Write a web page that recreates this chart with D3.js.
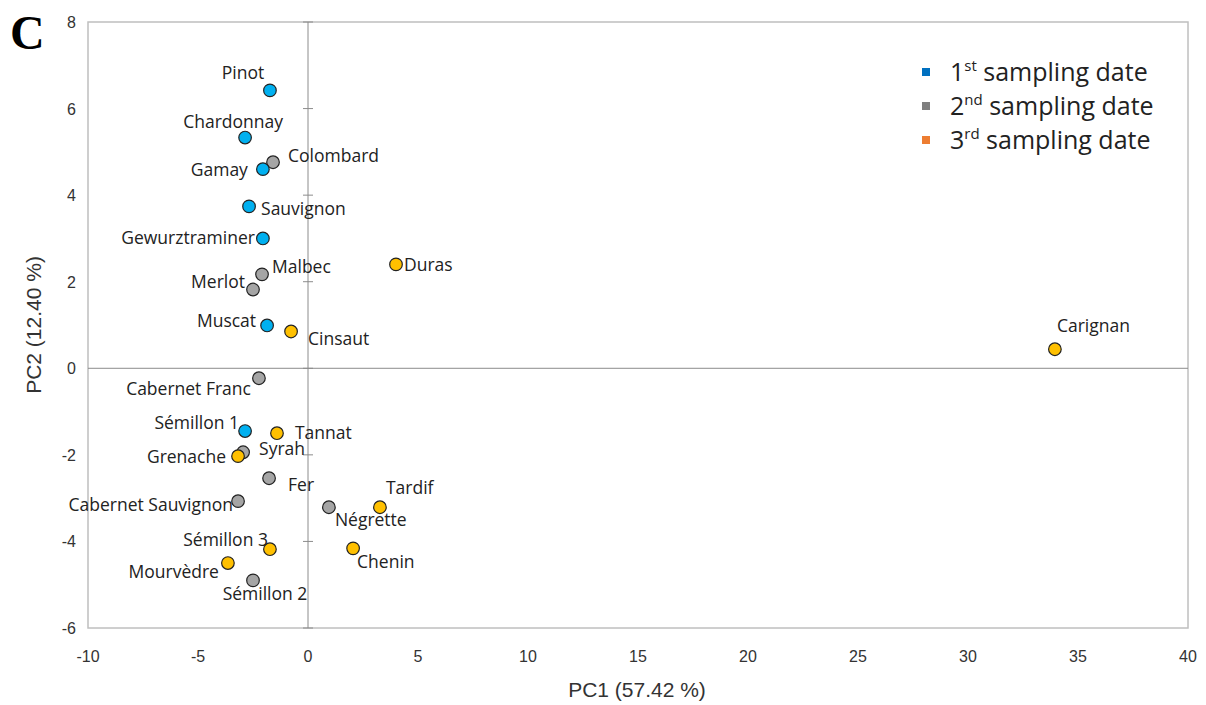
<!DOCTYPE html>
<html>
<head>
<meta charset="utf-8">
<script src="https://cdn.jsdelivr.net/npm/d3@7"></script>
<style>
  body { margin: 0; background: #fff; }
  svg { display: block; }
  .lbl { font-family: "Open Sans", sans-serif; font-size: 17.5px; fill: #222; }
  .tick-lbl { font-family: "Liberation Sans Narrow", "Liberation Sans", sans-serif; font-size: 16px; fill: #333; }
  .ttl { font-family: "Liberation Sans Narrow", "Liberation Sans", sans-serif; font-size: 21px; fill: #333; }
  .leg { font-family: "Open Sans", sans-serif; font-size: 25px; fill: #222; }
</style>
</head>
<body>
<svg id="chart" width="1206" height="705"></svg>
<script>
// cultivar names, sampling date (1,2,3), PC1 and PC2 scores
var names = ["Pinot", "Chardonnay", "Colombard", "Gamay", "Sauvignon", "Gewurztraminer",
  "Malbec", "Merlot", "Duras", "Muscat", "Cinsaut", "Carignan", "Cabernet Franc",
  "Sémillon 1", "Tannat", "Syrah", "Grenache", "Fer", "Cabernet Sauvignon", "Négrette",
  "Tardif", "Chenin", "Sémillon 3", "Mourvèdre", "Sémillon 2"];
var dates = [1, 1, 2, 1, 1, 1, 2, 2, 3, 1, 3, 3, 2, 1, 3, 2, 3, 2, 2, 2, 3, 3, 3, 3, 2];
var pc1 = [-1.73, -2.86, -1.59, -2.05, -2.68, -2.05, -2.09, -2.5, 4.0, -1.86, -0.77, 33.95, -2.23,
  -2.86, -1.41, -2.95, -3.18, -1.77, -3.18, 0.95, 3.27, 2.05, -1.73, -3.64, -2.5];
var pc2 = [6.42, 5.33, 4.76, 4.6, 3.74, 3.0, 2.17, 1.82, 2.4, 0.99, 0.85, 0.44, -0.23,
  -1.45, -1.5, -1.94, -2.03, -2.54, -3.07, -3.21, -3.21, -4.16, -4.18, -4.5, -4.9];
var xTicks = [-10, -5, 0, 5, 10, 15, 20, 25, 30, 35, 40];
var yTicks = [-6, -4, -2, 0, 2, 4, 6, 8];
var legendLabels = [["1", "st"], ["2", "nd"], ["3", "rd"]];

// label placement around each point: [anchor, dx, dy]
var labelPos = {
  "Pinot": ["middle", -27, -18], "Chardonnay": ["middle", -12, -16],
  "Colombard": ["start", 15, -6], "Gamay": ["end", -15, 1],
  "Sauvignon": ["start", 12, 2], "Gewurztraminer": ["end", -8, -1],
  "Malbec": ["start", 10, -7], "Merlot": ["end", -8, -8],
  "Duras": ["start", 8, 0], "Muscat": ["end", -11, -5],
  "Cinsaut": ["start", 17, 7], "Carignan": ["start", 2, -23],
  "Cabernet Franc": ["end", -8, 11], "Sémillon 1": ["end", -6, -8],
  "Tannat": ["start", 18, 0], "Syrah": ["start", 16, -3],
  "Grenache": ["end", -12, 1], "Fer": ["start", 19, 7],
  "Cabernet Sauvignon": ["end", -5, 4], "Négrette": ["start", 6, 13],
  "Tardif": ["start", 6, -19], "Chenin": ["start", 4, 14],
  "Sémillon 3": ["end", -2, -9], "Mourvèdre": ["end", -9, 9],
  "Sémillon 2": ["middle", 12, 13]
};

var pointFill = { 1: "#00B0F0", 2: "#A5A5A5", 3: "#FFC000" };
var legendFill = ["#0070C0", "#7F7F7F", "#ED7D31"];

var svg = d3.select("#chart");
var x = d3.scaleLinear().domain([-10, 40]).range([88, 1188]);
var y = d3.scaleLinear().domain([-6, 8]).range([628, 22]);

// plot frame
svg.append("rect")
  .attr("x", x(-10)).attr("y", y(8))
  .attr("width", x(40) - x(-10)).attr("height", y(-6) - y(8))
  .attr("fill", "none").attr("stroke", "#BFBFBF").attr("stroke-width", 1.5);

// zero lines
svg.append("line")
  .attr("x1", x(-10)).attr("x2", x(40)).attr("y1", y(0)).attr("y2", y(0))
  .attr("stroke", "#8C8C8C").attr("stroke-width", 1);
svg.append("line")
  .attr("x1", x(0)).attr("x2", x(0)).attr("y1", y(8)).attr("y2", y(-6))
  .attr("stroke", "#8C8C8C").attr("stroke-width", 1);

// tick marks across the vertical zero line
svg.selectAll(".ytick").data(yTicks).enter().append("line")
  .attr("x1", x(0) - 5).attr("x2", x(0) + 5)
  .attr("y1", function (d) { return y(d); }).attr("y2", function (d) { return y(d); })
  .attr("stroke", "#8C8C8C");

// tick labels
svg.selectAll(".ylab").data(yTicks).enter().append("text")
  .attr("class", "tick-lbl")
  .attr("x", 76).attr("y", function (d) { return y(d) + 6; })
  .attr("text-anchor", "end")
  .text(function (d) { return d; });
svg.selectAll(".xlab").data(xTicks).enter().append("text")
  .attr("class", "tick-lbl")
  .attr("x", function (d) { return x(d); }).attr("y", 662)
  .attr("text-anchor", "middle")
  .text(function (d) { return d; });

// axis titles
svg.append("text").attr("class", "ttl")
  .attr("x", 637).attr("y", 697).attr("text-anchor", "middle")
  .text("PC1 (57.42 %)");
svg.append("text").attr("class", "ttl")
  .attr("transform", "translate(41,325) rotate(-90)").attr("text-anchor", "middle")
  .text("PC2 (12.40 %)");

// panel letter
svg.append("text")
  .attr("x", 10).attr("y", 49)
  .style("font-family", "'Liberation Serif', serif").style("font-weight", "bold")
  .style("font-size", "48px").attr("fill", "#000")
  .text("C");

// points
var idx = d3.range(names.length);
svg.selectAll(".pt").data(idx).enter().append("circle")
  .attr("cx", function (i) { return x(pc1[i]); })
  .attr("cy", function (i) { return y(pc2[i]); })
  .attr("r", 6.3)
  .attr("fill", function (i) { return pointFill[dates[i]]; })
  .attr("stroke", "#222").attr("stroke-width", 1.2);

// point labels
svg.selectAll(".pl").data(idx).enter().append("text")
  .attr("class", "lbl")
  .attr("x", function (i) { return x(pc1[i]) + labelPos[names[i]][1]; })
  .attr("y", function (i) { return y(pc2[i]) + labelPos[names[i]][2]; })
  .attr("dy", "0.35em")
  .attr("text-anchor", function (i) { return labelPos[names[i]][0]; })
  .text(function (i) { return names[i]; });

// legend
var leg = svg.append("g");
legendLabels.forEach(function (l, k) {
  var ly = 72 + k * 34;
  leg.append("rect").attr("x", 922).attr("y", ly - 4).attr("width", 8).attr("height", 8)
    .attr("fill", legendFill[k]);
  var t = leg.append("text").attr("class", "leg").attr("x", 950).attr("y", ly + 9);
  t.append("tspan").text(l[0]);
  t.append("tspan").attr("dy", -10).style("font-size", "15px").text(l[1]);
  t.append("tspan").attr("dy", 10).text(" sampling date");
});
</script>
</body>
</html>
